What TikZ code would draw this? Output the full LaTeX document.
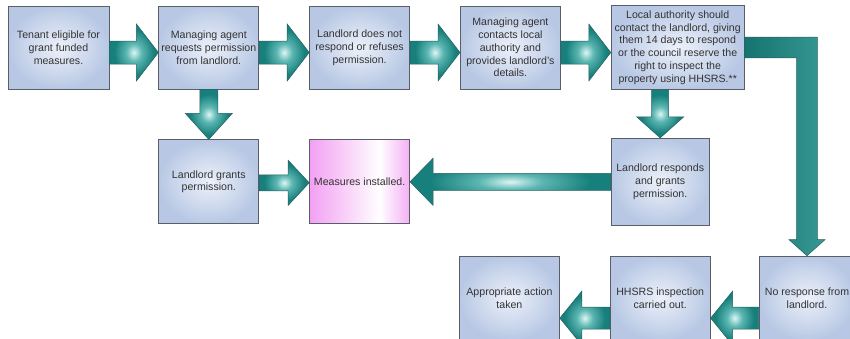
\documentclass[tikz,border=0pt]{standalone}
\usepackage{fontspec}
\setmainfont{Liberation Sans}
\usetikzlibrary{positioning,calc}
\definecolor{boxin}{RGB}{236,241,250}
\definecolor{boxout}{RGB}{184,200,228}
\definecolor{boxln}{RGB}{90,94,104}
\definecolor{tealhi}{RGB}{220,246,244}
\definecolor{tealmd}{RGB}{92,182,178}
\definecolor{tealdk}{RGB}{24,128,124}
\definecolor{tealln}{RGB}{40,96,96}
\definecolor{pinkend}{RGB}{243,160,243}
\pgfdeclareradialshading{tealglow}{\pgfpoint{0bp}{0bp}}{color(0bp)=(tealhi); color(8bp)=(tealmd); color(20bp)=(tealdk); color(50bp)=(tealdk)}
\pgfdeclarehorizontalshading{pinkfade}{100bp}{color(0bp)=(pinkend); color(25bp)=(pinkend); color(60bp)=(white); color(75bp)=(pinkend!85); color(100bp)=(pinkend!85)}

\begin{document}
\begin{tikzpicture}[x=1pt,y=-1pt,node distance=50pt,
    box/.style={rectangle,draw=boxln,line width=0.8pt,inner color=boxin,outer color=boxout,
      minimum width=100pt,minimum height=84pt,inner sep=1pt,align=center,text=black!80,
      font=\fontsize{10.6}{12.8}\selectfont},
    pinkbox/.style={box,shading=pinkfade},
    fat/.style n args={3}{shade,shading=tealglow,draw=tealln,line width=0.5pt,
      to path={($(\tikztostart)!#1!90:(\tikztotarget)$)
        -- ($($(\tikztotarget)!#3!(\tikztostart)$)!#1!90:(\tikztotarget)$)
        -- ($($(\tikztotarget)!#3!(\tikztostart)$)!#2!90:(\tikztotarget)$)
        -- (\tikztotarget)
        -- ($($(\tikztotarget)!#3!(\tikztostart)$)!#2!-90:(\tikztotarget)$)
        -- ($($(\tikztotarget)!#3!(\tikztostart)$)!#1!-90:(\tikztotarget)$)
        -- ($(\tikztostart)!#1!-90:(\tikztotarget)$) -- cycle}},
    big/.style={fat={11.5pt}{28.5pt}{22pt}},
    mid/.style={fat={8.5pt}{23.5pt}{23pt}},
    low/.style={fat={11pt}{27pt}{22pt}},
    lbend/.style={left color=tealdk!90!black,right color=tealdk!55!tealmd,draw=tealln,line width=0.5pt}]

    \path[use as bounding box,clip] (0,0) rectangle (850,338);

    % top row
    \node[box,minimum width=101pt,minimum height=83pt] (tenant) at (58.5,47.5) {Tenant eligible for\\grant funded\\measures.};
    \node[box,minimum height=83pt] (request) [right=49pt of tenant] {Managing agent\\requests permission\\from landlord.};
    \node[box,minimum height=83pt] (refuse) [right=of request] {Landlord does not\\respond or refuses\\permission.};
    \node[box,minimum height=83pt] (contact) [right=of refuse] {Managing agent\\contacts local\\authority and\\provides landlord’s\\details.};
    \node[box,minimum width=133pt] (council) [right=of contact] {Local authority should\\contact the landlord, giving\\them 14 days to respond\\or the council reserve the\\right to inspect the\\property using HHSRS.**};

    % middle row
    \node[box] (grants) [below=of request] {Landlord grants\\permission.};
    \node[pinkbox] (installed) [right=of grants] {Measures installed.};
    \node[box,minimum width=98pt,minimum height=87pt] (responds) [below=48pt of council.south west,anchor=north west] {Landlord responds\\and grants\\permission.};

    % bottom row
    \node[box] (inspect) [below=30pt of responds] {HHSRS inspection\\carried out.};
    \node[box] (action) [left=of inspect] {Appropriate action\\taken};
    \node[box,minimum width=96pt] (noreply) [right=48pt of inspect] {No response from\\landlord.};

    % arrows
    \path[big] ([yshift=-5pt]tenant.east) to ([yshift=-5pt]request.west);
    \path[big] ([yshift=-5pt]request.east) to ([yshift=-5pt]refuse.west);
    \path[big] ([yshift=-5pt]refuse.east) to ([yshift=-5pt]contact.west);
    \path[big] ([yshift=-5pt]contact.east) to ([yshift=-5pt]council.west);
    \path[fat={9pt}{23.5pt}{26pt}] (request.south) to (grants.north);
    \path[fat={8.5pt}{23.5pt}{21pt}] (responds.north |- council.south) to (responds.north);
    \path[fat={8pt}{22.5pt}{21pt}] ([yshift=-1pt]grants.east) to ([yshift=-1pt]installed.west);
    \path[mid] (responds.west) to (installed.east);
    \path[low] ([yshift=-20pt]noreply.west) to ([yshift=-20pt]inspect.east);
    \path[low] ([yshift=-20pt]inspect.west) to ([yshift=-20pt]action.east);

    \coordinate (bend) at (noreply.north |- council.east);
    \path[lbend] ([yshift=10.3pt]council.east) -- ([shift={(10.3pt,10.3pt)}]bend)
      -- ([shift={(10.3pt,16pt)}]noreply.north) -- ([shift={(18pt,16pt)}]noreply.north)
      -- (noreply.north) -- ([shift={(-18pt,16pt)}]noreply.north)
      -- ([shift={(-10.3pt,16pt)}]noreply.north) -- ([shift={(-10.3pt,-10.3pt)}]bend)
      -- ([yshift=-10.3pt]council.east) -- cycle;
\end{tikzpicture}
\end{document}
